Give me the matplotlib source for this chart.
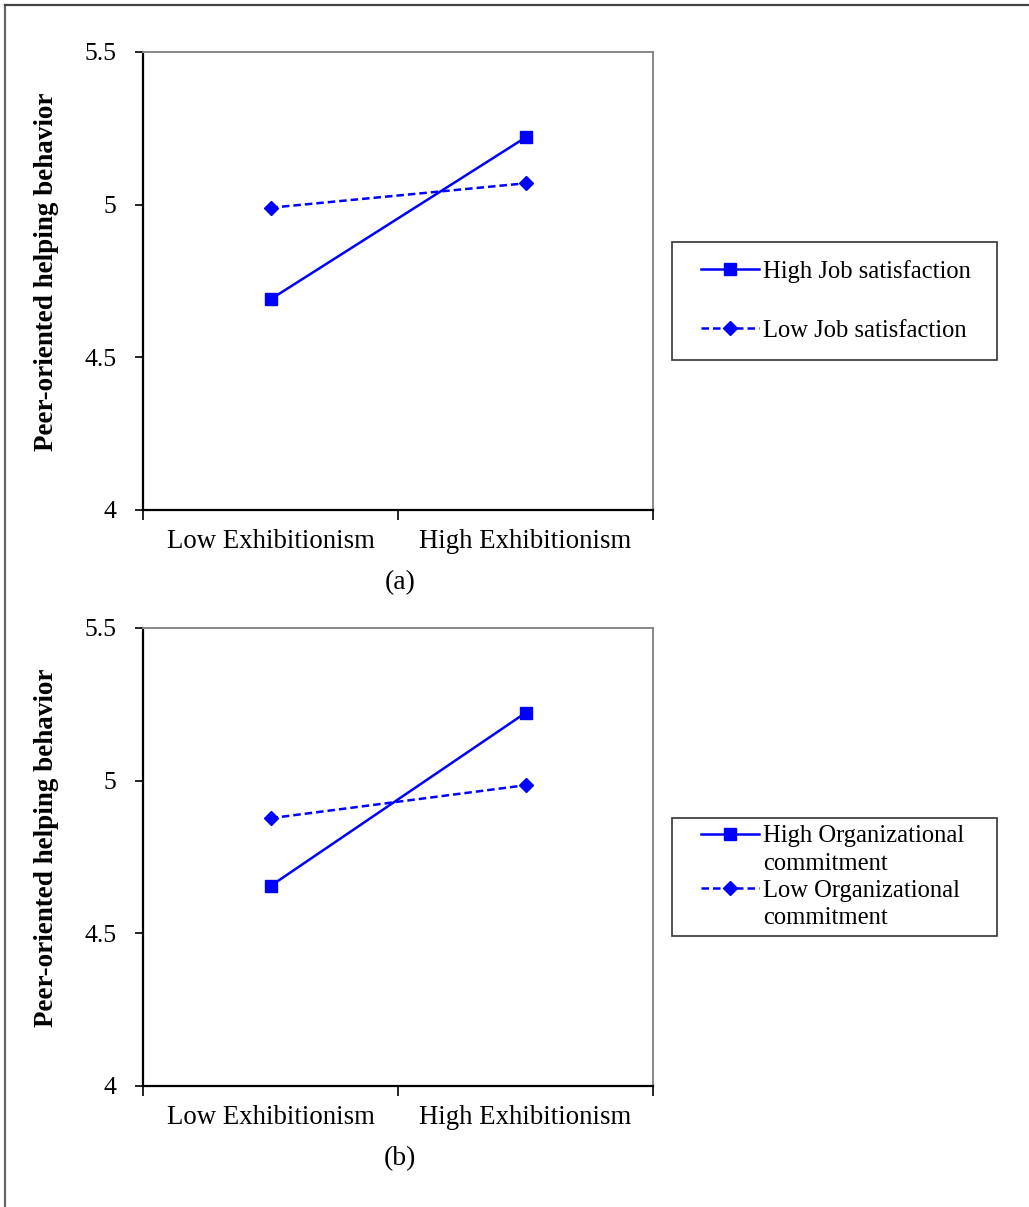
import matplotlib
matplotlib.use("Agg")
import matplotlib.pyplot as plt
from matplotlib.lines import Line2D
from matplotlib.patches import Rectangle

plt.rcParams['font.family'] = ['Liberation Serif', 'DejaVu Serif']

# data
categories = ['Low Exhibitionism', 'High Exhibitionism']
ylabel = 'Peer-oriented helping behavior'

high_job = [4.69, 5.22]
low_job = [4.99, 5.07]
job_labels = [['High Job satisfaction'], ['Low Job satisfaction']]

high_org = [4.655, 5.222]
low_org = [4.877, 4.985]
org_labels = [['High Organizational', 'commitment'], ['Low Organizational', 'commitment']]

captions = ['(a)', '(b)']

W, H = 1029, 1207
fig = plt.figure(figsize=(W / 100, H / 100), dpi=100)

# outer frame (only left and top edge visible in the crop)
fig.add_artist(Line2D([5 / W, 5 / W], [0, 1 - 5 / H], color='#666666', lw=1.6,
                      transform=fig.transFigure))
fig.add_artist(Line2D([5 / W, 1], [1 - 5 / H, 1 - 5 / H], color='#444444', lw=1.6,
                      transform=fig.transFigure))

blue = '#0000ff'
xpos = [0.5, 1.5]
dash = (0, (3, 1.6))


def panel(top_px, hi, lo, labels, caption, leg_top_px, labsp):
    ax = fig.add_axes([143 / W, 1 - (top_px + 458) / H, 510 / W, 458 / H])
    l1, = ax.plot(xpos, hi, color=blue, lw=1.8, marker='s', ms=9)
    l2, = ax.plot(xpos, lo, color=blue, lw=1.8, ls=dash, marker='D', ms=7.5)
    ax.set_xlim(0, 2)
    ax.set_ylim(4, 5.5)
    ax.set_yticks([4, 4.5, 5, 5.5])
    ax.set_yticklabels(['4', '4.5', '5', '5.5'])
    ax.set_xticks([0, 1, 2])
    ax.set_xticklabels([])
    ax.set_xticks(xpos, minor=True)
    ax.set_xticklabels(categories, minor=True)
    ax.tick_params(axis='x', which='major', length=7, width=1.2, direction='out')
    ax.tick_params(axis='x', which='minor', length=0, pad=14, labelsize=19.3)
    ax.tick_params(axis='y', length=6, width=1.2, direction='out', pad=13, labelsize=18.5)
    for s in ['left', 'bottom']:
        ax.spines[s].set_color('black')
        ax.spines[s].set_linewidth(1.6)
    for s in ['top', 'right']:
        ax.spines[s].set_color('#888888')
        ax.spines[s].set_linewidth(1.4)
    ax.set_ylabel(ylabel, fontsize=19.5, fontweight='bold')
    ax.yaxis.set_label_coords(-0.164, 0.52)
    fig.text(400 / W, 1 - (top_px + 531) / H, caption, ha='center', va='center',
             fontsize=20)

    # legend: one row per text line, marker only on the first line of each entry
    blank = Line2D([], [], color='none')
    handles, texts = [], []
    for h, lab in zip([l1, l2], labels):
        handles.append(h)
        texts.append(lab[0])
        for extra in lab[1:]:
            handles.append(blank)
            texts.append(extra)
    leg_h = 118
    fig.add_artist(Rectangle((672 / W, 1 - (leg_top_px + leg_h) / H), 325 / W, leg_h / H,
                             transform=fig.transFigure, fill=False,
                             edgecolor='#333333', lw=1.2))
    ax.legend(handles, texts, loc='center left',
              bbox_to_anchor=(701 / W, 1 - (leg_top_px + leg_h / 2) / H),
              bbox_transform=fig.transFigure, fontsize=17.7, frameon=False,
              handlelength=2.36, handletextpad=0.16, labelspacing=labsp,
              borderpad=0, borderaxespad=0)
    return ax


panel(52, high_job, low_job, job_labels, captions[0], 242, 1.5)
panel(628, high_org, low_org, org_labels, captions[1], 818, 0.2)

fig.savefig('out.png', dpi=100)
